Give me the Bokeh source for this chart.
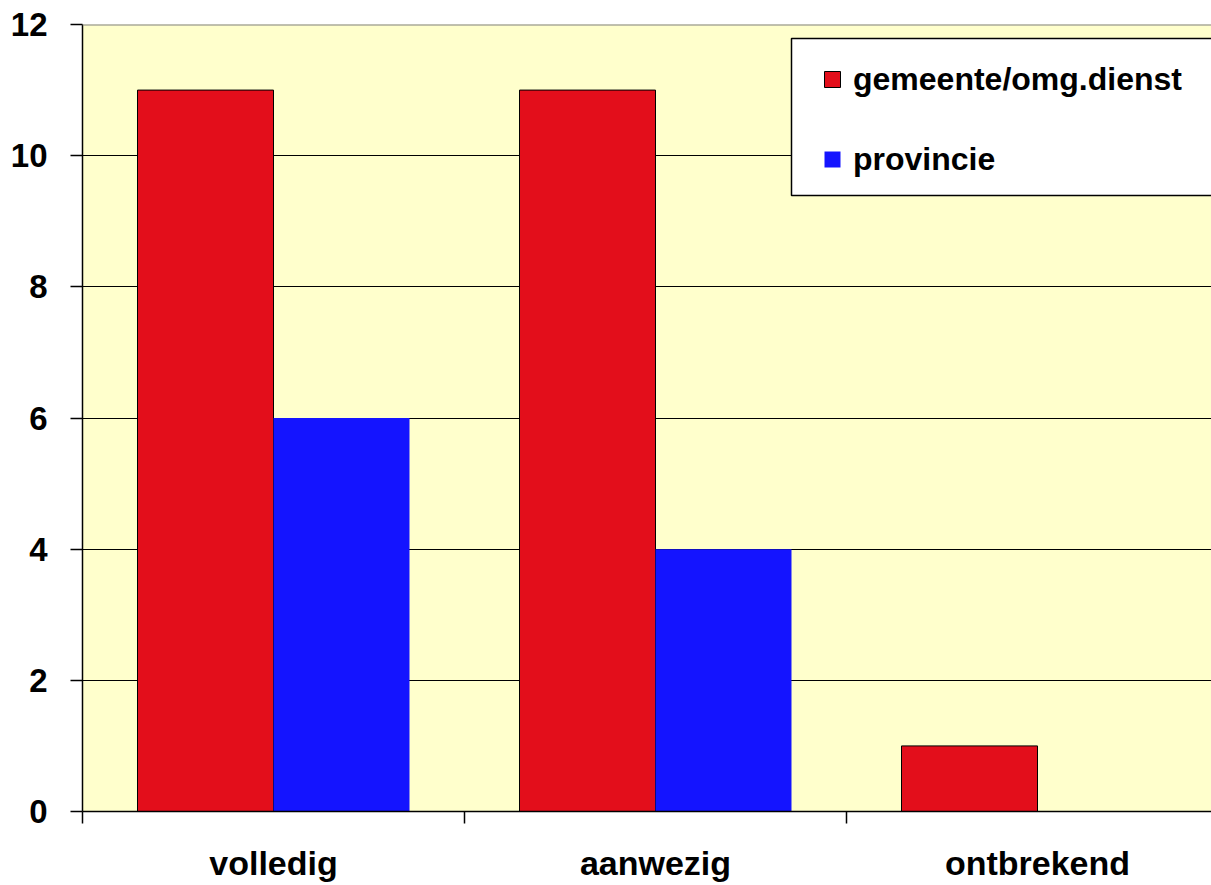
from bokeh.plotting import figure
from bokeh.models import (Range1d, FixedTicker, Span, Legend, LegendItem,
                          ColumnDataSource, CustomJSTickFormatter, BoxAnnotation)
from bokeh.transform import dodge
from bokeh.embed import file_html
from bokeh.resources import INLINE

categories = ["volledig", "aanwezig", "ontbrekend"]
gemeente = [11, 11, 1]
provincie = [6, 4, 0]
series = ["gemeente/omg.dienst", "provincie"]
y_ticks = [0, 2, 4, 6, 8, 10, 12]
grid_ticks = [2, 4, 6, 8, 10]

RED = "#E30E1B"
BLUE = "#1414FF"
FONT = "Liberation Sans"

src = ColumnDataSource(dict(pos=[i + 0.5 for i in range(len(categories))],
                            gem=gemeente, prov=provincie))

p = figure(frame_width=1129, frame_height=787,
           x_range=Range1d(0, 1129 / 382), y_range=Range1d(0, 12),
           output_backend="svg", toolbar_location=None,
           min_border_left=82, min_border_top=24, min_border_right=0,
           min_border_bottom=0,
           background_fill_color="#FFFFCC", border_fill_color="white",
           outline_line_color=None)

r1 = p.vbar(x=dodge("pos", -0.178), top="gem", width=0.356, source=src,
            fill_color=RED, line_color="black", line_width=1)
r2 = p.vbar(x=dodge("pos", 0.178), top="prov", width=0.356, source=src,
            fill_color=BLUE, line_color=None)

p.add_layout(Span(location=12, dimension="width", line_color="#808080", line_width=2))

# grid
p.xgrid.visible = False
p.ygrid.ticker = FixedTicker(ticks=grid_ticks)
p.ygrid.grid_line_color = "black"
p.ygrid.grid_line_width = 1
p.ygrid.grid_line_alpha = 1

# y axis
ya = p.yaxis[0]
ya.ticker = FixedTicker(ticks=y_ticks)
ya.major_tick_out = 12
ya.major_tick_in = 0
ya.minor_tick_out = 0
ya.minor_tick_in = 0
ya.axis_line_color = "black"
ya.axis_line_width = 1.5
ya.major_tick_line_color = "black"
ya.major_tick_line_width = 1.5
ya.major_label_standoff = 23
ya.major_label_text_font = FONT
ya.major_label_text_font_style = "bold"
ya.major_label_text_font_size = "33px"
ya.major_label_text_color = "black"

# x axis
xa = p.xaxis[0]
xa.ticker = FixedTicker(ticks=[i + 0.5 for i in range(len(categories))],
                        minor_ticks=list(range(len(categories) + 1)))
xa.formatter = CustomJSTickFormatter(args=dict(cats=categories),
                                     code="return cats[Math.floor(tick)];")
xa.major_tick_out = 0
xa.major_tick_in = 0
xa.minor_tick_out = 12
xa.minor_tick_in = 0
xa.minor_tick_line_color = "black"
xa.minor_tick_line_width = 1.5
xa.axis_line_color = "black"
xa.axis_line_width = 1.5
xa.major_label_standoff = 20
xa.major_label_text_font = FONT
xa.major_label_text_font_style = "bold"
xa.major_label_text_font_size = "34px"
xa.major_label_text_color = "black"

# legend frame (screen units relative to the plot frame, y upward)
p.add_layout(BoxAnnotation(left=709, right=1300, top=773, bottom=616,
                           left_units="screen", right_units="screen",
                           top_units="screen", bottom_units="screen",
                           fill_color="white", fill_alpha=1,
                           line_color="black", line_width=1.5, line_alpha=1))

legend = Legend(items=[LegendItem(label=series[0], renderers=[r1]),
                       LegendItem(label=series[1], renderers=[r2])],
                location=(740, 632),
                border_line_color=None,
                background_fill_alpha=0,
                padding=0, spacing=40, margin=0,
                glyph_width=20, glyph_height=20, label_height=40,
                label_standoff=11, label_width=300,
                label_text_font=FONT, label_text_font_style="bold",
                label_text_font_size="32px", label_text_color="black")
p.add_layout(legend)

open("out.html", "w").write(file_html(p, INLINE))
